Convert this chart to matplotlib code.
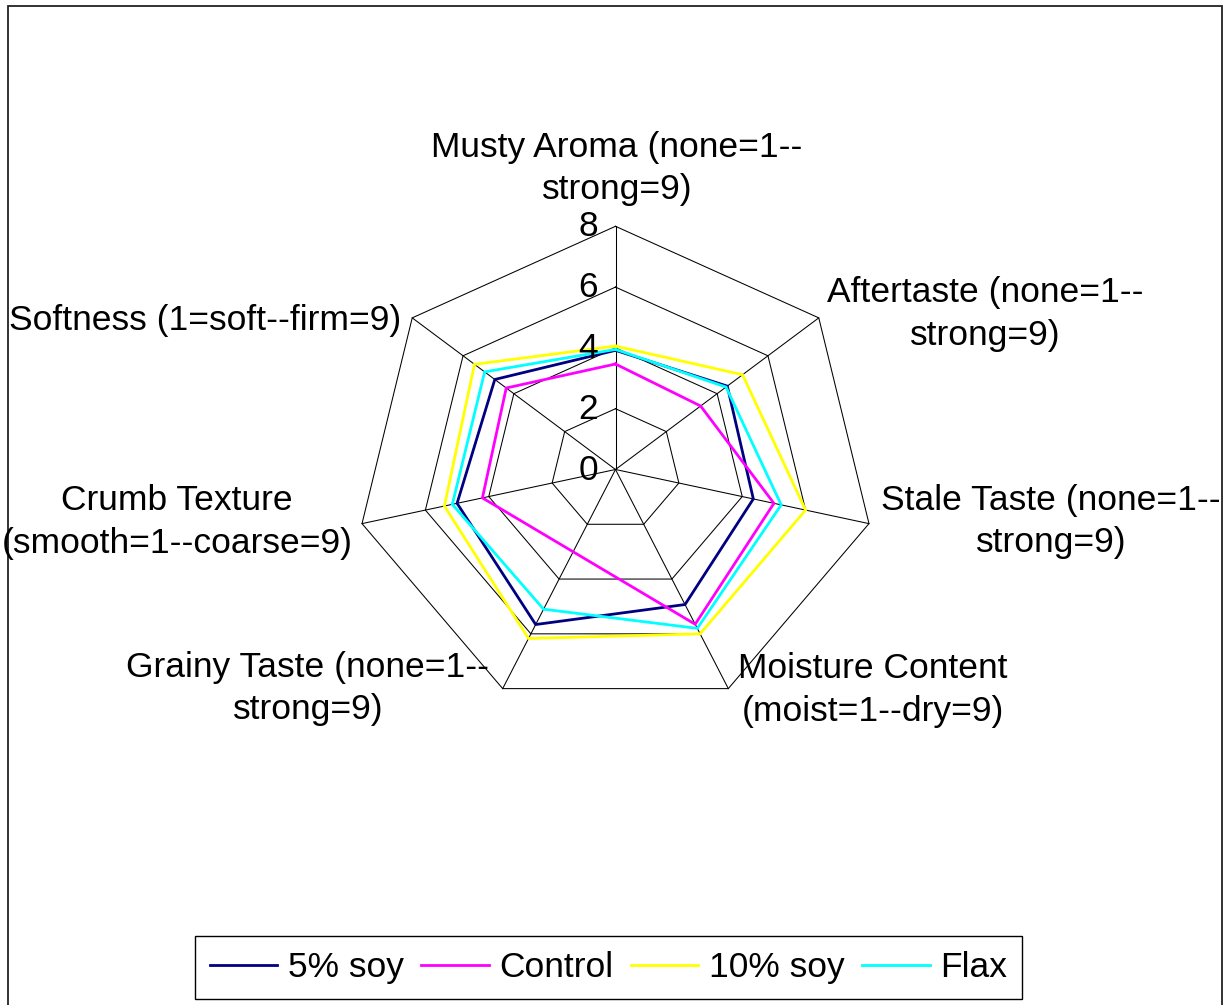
#!/usr/bin/env python3

import numpy as np
import matplotlib.pyplot as plt
from matplotlib.lines import Line2D
from matplotlib.patches import Rectangle

# data (scale 0..8)
categories = [
    "Musty Aroma (none=1--\nstrong=9)",
    "Aftertaste (none=1--\nstrong=9)",
    "Stale Taste (none=1--\nstrong=9)",
    "Moisture Content\n(moist=1--dry=9)",
    "Grainy Taste (none=1--\nstrong=9)",
    "Crumb Texture\n(smooth=1--coarse=9)",
    "Softness (1=soft--firm=9)",
]
series_names = ["5% soy", "Control", "10% soy", "Flax"]
soy5 = [3.92, 4.4, 4.35, 4.93, 5.66, 5.0, 4.75]
control = [3.47, 3.35, 5.0, 5.65, np.nan, 4.2, 4.3]   # no grainy value
soy10 = [4.06, 5.0, 6.0, 6.0, 6.17, 5.4, 5.55]
flax = [3.95, 4.35, 5.23, 5.8, 5.1, 5.15, 5.15]
ticks = [0, 2, 4, 6, 8]

series_colors = ["#000080", "#FF00FF", "#FFFF00", "#00FFFF"]

# layout (pixels, measured from top-left)
W, H = 1225, 1005
CX, CY = 615.5, 469.5
SX, SY = 32.5, 30.4
FS = 25.5
FONT = "Liberation Sans"
# centre x and first-line baseline of each category label
label_pos = [(617, 157), (985.5, 302), (1051, 509.5), (873, 678.5),
             (308, 677), (177, 510), (205, 330)]
LINE_GAP = 42.5


def polar(r, ang):
    return r * np.sin(ang), r * np.cos(ang)


def main():
    plt.rcParams["font.family"] = [FONT, "DejaVu Sans"]
    fig = plt.figure(figsize=(W / 100, H / 100), dpi=100)
    ax = fig.add_axes([0, 0, 1, 1])
    ax.set_xlim(-CX / SX, (W - CX) / SX)
    ax.set_ylim(-(H - CY) / SY, CY / SY)
    ax.axis("off")

    n = len(categories)
    ang = np.arange(n) * 2 * np.pi / n

    # grid rings and spokes
    for t in ticks[1:]:
        x, y = polar(np.full(n + 1, t), np.append(ang, ang[0]))
        ax.plot(x, y, color="black", lw=0.75, zorder=1)
    for a in ang:
        x, y = polar(np.array([0, ticks[-1]]), np.array([a, a]))
        ax.plot(x, y, color="black", lw=0.75, zorder=1)

    # series
    for vals, color in zip([soy5, control, soy10, flax], series_colors):
        arr = np.array(vals, dtype=float)
        ok = ~np.isnan(arr)
        r = np.append(arr[ok], arr[ok][0])
        a = np.append(ang[ok], ang[ok][0])
        x, y = polar(r, a)
        ax.plot(x, y, color=color, lw=2.0, zorder=3, solid_joinstyle="miter")

    # value ticks along the top spoke
    for t in ticks:
        ax.annotate(str(t), xy=(0, t), xytext=(-17.5, -10),
                    textcoords="offset pixels", ha="right", va="baseline",
                    fontsize=FS, zorder=4)

    # category labels
    for text, (px, py) in zip(categories, label_pos):
        for i, line in enumerate(text.split("\n")):
            fig.text(px / W, 1 - (py + i * LINE_GAP) / H, line,
                     ha="center", va="baseline", fontsize=FS)

    # legend
    handles = [Line2D([], [], color=c, lw=2.0) for c in series_colors]
    leg = fig.legend(handles, series_names, ncol=4, loc="center",
                     bbox_to_anchor=(608.5 / W, 1 - 967.5 / H),
                     fontsize=FS, frameon=True, fancybox=False,
                     edgecolor="black", framealpha=1, borderpad=0.42,
                     handlelength=1.9, handletextpad=0.3,
                     columnspacing=0.5)
    leg.get_frame().set_linewidth(1.0)

    # outer chart border (open at the bottom)
    fig.patches.append(Rectangle((7.5 / W, -0.05), (1222 - 7.5) / W,
                                 1.05 - 6.5 / H, transform=fig.transFigure,
                                 fill=False, edgecolor="#222222", lw=1.3))

    fig.savefig("out.png", dpi=100, facecolor="white")


if __name__ == "__main__":
    main()
